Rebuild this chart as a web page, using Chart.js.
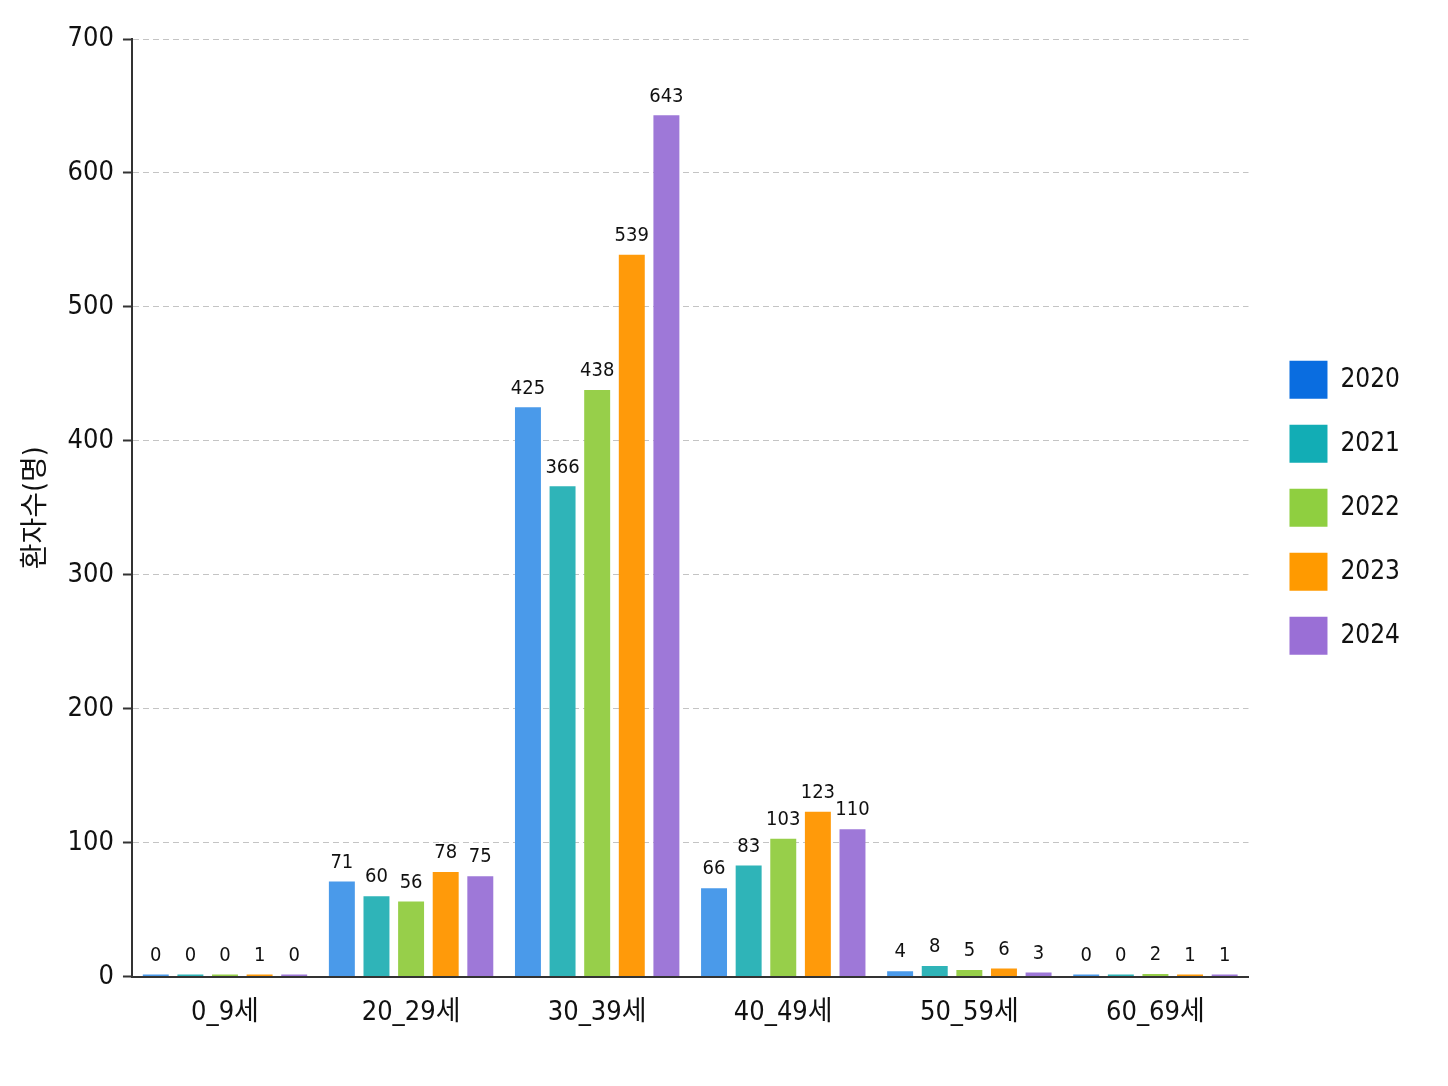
<!DOCTYPE html>
<html>
<head>
<meta charset="utf-8">
<script src="https://cdn.jsdelivr.net/npm/chart.js@4.4.1/dist/chart.umd.min.js"></script>
<style>
html,body{margin:0;padding:0;background:#fff;}
#wrap{width:1448px;height:1086px;position:relative;}
</style>
</head>
<body>
<div id="wrap"><canvas id="c"></canvas></div>
<script>
const categories = ["0_9세", "20_29세", "30_39세", "40_49세", "50_59세", "60_69세"];
const seriesNames = ["2020", "2021", "2022", "2023", "2024"];
const v2020 = [0, 71, 425, 66, 4, 0];
const v2021 = [0, 60, 366, 83, 8, 0];
const v2022 = [0, 56, 438, 103, 5, 2];
const v2023 = [1, 78, 539, 123, 6, 1];
const v2024 = [0, 75, 643, 110, 3, 1];
const yTicks = [0, 100, 200, 300, 400, 500, 600, 700];

const barColors = ["#4a9aea", "#2fb4b8", "#97cf4a", "#ff9a0a", "#9e78d8"];
const legendColors = ["#0a6de0", "#12adb5", "#8fcf40", "#ff9a00", "#9a6fd6"];
const FONT = '"Liberation Sans Narrow", "DejaVu Sans Condensed", "Noto Sans CJK KR", sans-serif';

const allValues = [v2020, v2021, v2022, v2023, v2024];

const valueLabels = {
  id: 'valueLabels',
  afterDatasetsDraw(chart) {
    const ctx = chart.ctx;
    ctx.save();
    ctx.font = '20px ' + FONT;
    ctx.fillStyle = '#111';
    ctx.textAlign = 'center';
    ctx.textBaseline = 'bottom';
    chart.data.datasets.forEach((ds, i) => {
      const meta = chart.getDatasetMeta(i);
      meta.data.forEach((bar, j) => {
        ctx.fillText(String(ds.data[j]), bar.x, bar.y - 9);
      });
    });
    ctx.restore();
  }
};

const legendShift = {
  id: 'legendShift',
  afterLayout(chart) {
    const dx = 15;
    if (chart.legend) { chart.legend.left += dx; chart.legend.right += dx; }
  }
};

new Chart(document.getElementById('c'), {
  type: 'bar',
  data: {
    labels: categories,
    datasets: seriesNames.map((n, i) => ({
      label: n,
      data: allValues[i],
      backgroundColor: barColors[i],
      borderWidth: 0,
      minBarLength: 2,
      categoryPercentage: 0.93,
      barPercentage: 0.75
    }))
  },
  options: {
    responsive: true,
    maintainAspectRatio: false,
    animation: false,
    layout: { padding: { top: 39, right: 53, bottom: 45, left: 16 } },
    scales: {
      x: {
        grid: { display: false },
        border: { display: true, color: '#333', width: 2 },
        ticks: { color: '#111', font: { family: FONT, size: 27 }, padding: 12 }
      },
      y: {
        min: 0, max: 700,
        afterBuildTicks(axis) { axis.ticks = yTicks.map(v => ({ value: v })); },
        grid: {
          color: '#c4c4c4', lineWidth: 1,
          drawTicks: true, tickLength: 9, tickColor: '#333', tickBorderDash: [], tickWidth: 2
        },
        border: { display: true, color: '#333', width: 2, dash: [6, 4] },
        ticks: { color: '#111', font: { family: FONT, size: 27 }, padding: 9 },
        title: { display: true, text: '환자수(명)', color: '#111', font: { family: FONT, size: 28 }, padding: { bottom: 5 } }
      }
    },
    plugins: {
      legend: {
        position: 'right',
        fullSize: false,
        labels: {
          boxWidth: 38, boxHeight: 38, padding: 26,
          color: '#111', font: { family: FONT, size: 26 },
          generateLabels(chart) {
            return chart.data.datasets.map((ds, i) => ({
              text: ds.label, fillStyle: legendColors[i], strokeStyle: legendColors[i],
              lineWidth: 0, hidden: false, datasetIndex: i, fontColor: '#111'
            }));
          }
        }
      },
      tooltip: { enabled: false }
    }
  },
  plugins: [valueLabels, legendShift]
});
</script>
</body>
</html>
